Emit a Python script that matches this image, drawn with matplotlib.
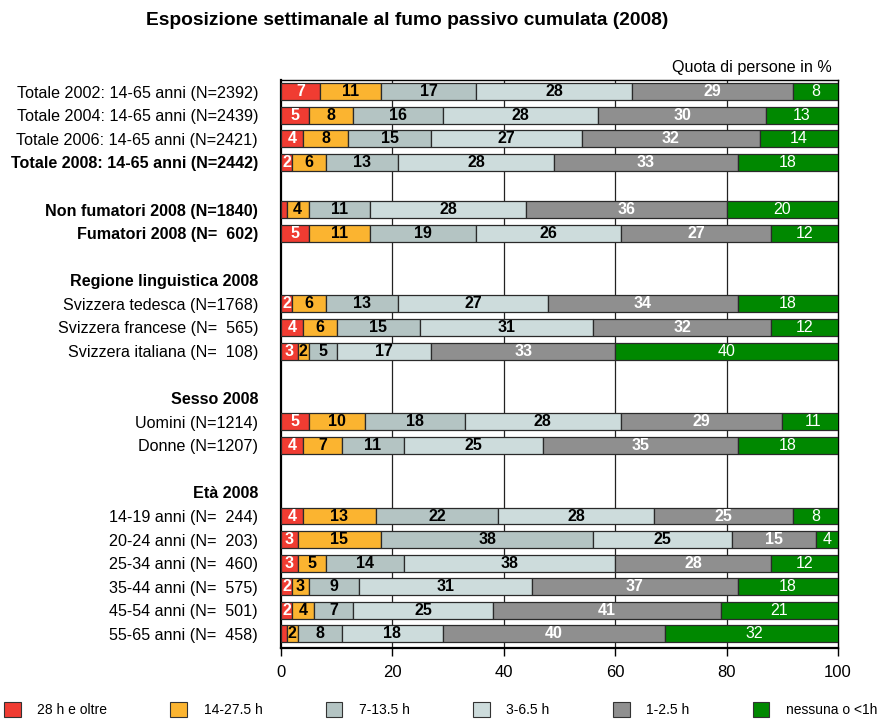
import matplotlib
matplotlib.use("Agg")
from matplotlib import pyplot as plt
import numpy as np

plt.rcParams['font.family'] = ['Liberation Sans', 'DejaVu Sans']

# righe del grafico (vuote = spazio, header = titolo di sezione)
righe = [
    ("Totale 2002: 14-65 anni (N=2392)", "data"),
    ("Totale 2004: 14-65 anni (N=2439)", "data"),
    ("Totale 2006: 14-65 anni (N=2421)", "data"),
    ("Totale 2008: 14-65 anni (N=2442)", "bold"),
    ("", "blank"),
    ("Non fumatori 2008 (N=1840)", "bold"),
    ("Fumatori 2008 (N=  602)", "bold"),
    ("", "blank"),
    ("Regione linguistica 2008", "header"),
    ("Svizzera tedesca (N=1768)", "data"),
    ("Svizzera francese (N=  565)", "data"),
    ("Svizzera italiana (N=  108)", "data"),
    ("", "blank"),
    ("Sesso 2008", "header"),
    ("Uomini (N=1214)", "data"),
    ("Donne (N=1207)", "data"),
    ("", "blank"),
    ("Età 2008", "header"),
    ("14-19 anni (N=  244)", "data"),
    ("20-24 anni (N=  203)", "data"),
    ("25-34 anni (N=  460)", "data"),
    ("35-44 anni (N=  575)", "data"),
    ("45-54 anni (N=  501)", "data"),
    ("55-65 anni (N=  458)", "data"),
]

categorie = ["28 h e oltre", "14-27.5 h", "7-13.5 h", "3-6.5 h", "1-2.5 h", "nessuna o <1h"]
colori = ["#f03c32", "#fbb430", "#b4c4c3", "#cddcdc", "#8f8f8f", "#008800"]
colori_testo = ["white", "black", "black", "black", "white", "white"]
pesi_testo = ["bold", "bold", "bold", "bold", "bold", "normal"]

# valori in % (solo righe con barre, nell'ordine)
h28 = [7, 5, 4, 2, 1, 5, 2, 4, 3, 5, 4, 4, 3, 3, 2, 2, 1]
h14 = [11, 8, 8, 6, 4, 11, 6, 6, 2, 10, 7, 13, 15, 5, 3, 4, 2]
h7 = [17, 16, 15, 13, 11, 19, 13, 15, 5, 18, 11, 22, 38, 14, 9, 7, 8]
h3 = [28, 28, 27, 28, 28, 26, 27, 31, 17, 28, 25, 28, 25, 38, 31, 25, 18]
h1 = [29, 30, 32, 33, 36, 27, 34, 32, 33, 29, 35, 25, 15, 28, 37, 41, 40]
h0 = [8, 13, 14, 18, 20, 12, 18, 12, 40, 11, 18, 8, 4, 12, 18, 21, 32]
serie = [h28, h14, h7, h3, h1, h0]

fig = plt.figure(figsize=(8.88, 7.22), dpi=100)
ax = fig.add_axes([0.3164, 0.1025, 0.6273, 0.7867])

y_data = [i for i, (lab, k) in enumerate(righe) if k in ("data", "bold")]
y_data = np.array(y_data)

left = np.zeros(len(y_data))
for vals, col, tc, fw in zip(serie, colori, colori_testo, pesi_testo):
    vals = np.array(vals, dtype=float)
    ax.barh(y_data, vals, left=left, height=0.72, color=col,
            edgecolor="#2a2a2a", linewidth=0.9, zorder=3)
    for y, l, v in zip(y_data, left, vals):
        if v >= 2:
            ax.text(l + v / 2, y, f"{int(v)}", ha="center", va="center",
                    color=tc, fontsize=11.5, fontweight=fw, zorder=4)
    left += vals

ax.set_xlim(0, 100)
ax.set_ylim(len(righe) - 0.4, -0.5)
ax.set_xticks([0, 20, 40, 60, 80, 100])
ax.tick_params(axis="x", labelsize=12, length=6, width=1, direction="out", pad=6)
ax.set_yticks(range(len(righe)))
ax.set_yticklabels([lab for lab, k in righe], fontsize=11.6)
ax.tick_params(axis="y", length=0, pad=16.5)
for t, (lab, k) in zip(ax.get_yticklabels(), righe):
    if k in ("bold", "header"):
        t.set_fontweight("bold")

for x in [20, 40, 60, 80]:
    ax.axvline(x, color="#222222", linewidth=0.9, zorder=1)
for s in ["left", "bottom"]:
    ax.spines[s].set_linewidth(1.6)
for s in ["top", "right"]:
    ax.spines[s].set_linewidth(1.0)

fig.text(0.458, 0.972, "Esposizione settimanale al fumo passivo cumulata (2008)",
         ha="center", va="center", fontsize=13.8, fontweight="bold")
fig.text(0.937, 0.907, "Quota di persone in %", ha="right", va="center", fontsize=11.6)

handles = [plt.Rectangle((0, 0), 1, 1, facecolor=c, edgecolor="#333333", linewidth=0.8)
           for c in colori]
fig.legend(handles, categorie, loc="lower left", bbox_to_anchor=(-0.005, -0.005),
           ncol=6, frameon=False, fontsize=10, handlelength=1.2, handleheight=1.2,
           handletextpad=1.2, columnspacing=4.55, borderaxespad=0.2)

fig.savefig("out.png", dpi=100)
